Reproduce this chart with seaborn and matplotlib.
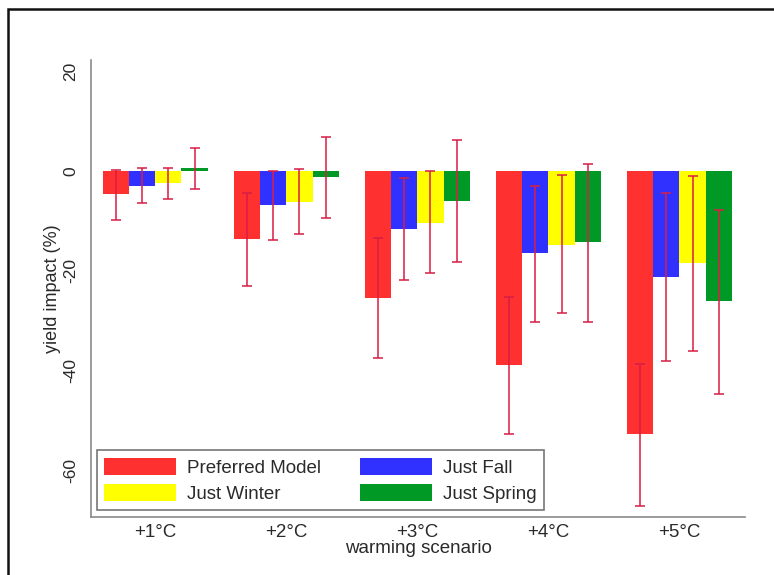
import numpy as np
import pandas as pd
import seaborn as sns
from matplotlib import pyplot as plt
from matplotlib.patches import Rectangle

scenarios = ["+1°C", "+2°C", "+3°C", "+4°C", "+5°C"]
series = ["Preferred Model", "Just Fall", "Just Winter", "Just Spring"]

pref = [-4.6, -13.6, -25.4, -38.8, -52.6]
pref_lo = [-9.8, -23.0, -37.4, -52.6, -67.0]
pref_hi = [0.2, -4.4, -13.4, -25.2, -38.6]

fall = [-3.0, -6.8, -11.6, -16.4, -21.2]
fall_lo = [-6.4, -13.8, -21.8, -30.2, -38.0]
fall_hi = [0.6, 0.0, -1.4, -3.0, -4.4]

winter = [-2.4, -6.2, -10.4, -14.8, -18.4]
winter_lo = [-5.6, -12.6, -20.4, -28.4, -36.0]
winter_hi = [0.6, 0.4, 0.0, -0.8, -1.0]

spring = [0.5, -1.3, -6.0, -14.2, -26.0]
spring_lo = [-3.6, -9.4, -18.2, -30.2, -44.6]
spring_hi = [4.6, 6.8, 6.2, 1.4, -7.8]

colors = ["#ff3030", "#3030ff", "#ffff00", "#009926"]
err_color = "#d81e45"

values = [pref, fall, winter, spring]
lows = [pref_lo, fall_lo, winter_lo, spring_lo]
highs = [pref_hi, fall_hi, winter_hi, spring_hi]

df = pd.DataFrame({
    "scenario": scenarios * 4,
    "model": np.repeat(series, 5),
    "impact": np.concatenate(values),
})

sns.set_style("white")
plt.rcParams["font.family"] = ["Liberation Sans", "DejaVu Sans"]

fig = plt.figure(figsize=(7.74, 5.75), dpi=100)
ax = fig.add_axes([0.1176, 0.1009, 0.8449, 0.7948])

sns.barplot(data=df, x="scenario", y="impact", hue="model", hue_order=series,
            order=scenarios, palette=colors, saturation=1, width=0.8,
            errorbar=None, ax=ax, linewidth=0, legend=False)

# error bars centred on each bar
for cont, lo, hi in zip(ax.containers, lows, highs):
    xs = [p.get_x() + p.get_width() / 2 for p in cont.patches]
    lo = np.array(lo)
    hi = np.array(hi)
    ax.errorbar(xs, (lo + hi) / 2, yerr=(hi - lo) / 2, fmt="none",
                ecolor=err_color, elinewidth=1.3, capsize=3.5, capthick=1.3,
                alpha=0.85, zorder=3)

ax.set_xlim(-0.49, 4.5)
ax.set_ylim(-69.2, 22.2)
ax.set_yticks([20, 0, -20, -40, -60])
ax.set_yticklabels(["20", "0", "-20", "-40", "-60"], rotation=90, va="center")

for s in ["top", "right"]:
    ax.spines[s].set_visible(False)
for s in ["left", "bottom"]:
    ax.spines[s].set_color("#8a8a8a")
    ax.spines[s].set_linewidth(1.2)

ax.tick_params(axis="y", length=5, color="#8a8a8a", labelsize=12.5, labelcolor="#2a2a2a", pad=4)
ax.tick_params(axis="x", length=0, labelsize=13.5, labelcolor="#2a2a2a", pad=5)

ax.set_xlabel("warming scenario", fontsize=13.5, color="#2a2a2a", labelpad=-1)
ax.set_ylabel("yield impact (%)", fontsize=13, color="#2a2a2a", labelpad=2)

handles = [Rectangle((0, 0), 1, 1, facecolor=colors[i], edgecolor="none") for i in [0, 2, 1, 3]]
labels = [series[i] for i in [0, 2, 1, 3]]
leg = ax.legend(handles, labels, ncol=2, loc="lower left", bbox_to_anchor=(0.009, 0.015),
                borderaxespad=0, fancybox=False, frameon=True, fontsize=13.5,
                handlelength=3.8, handleheight=1.05, handletextpad=0.6,
                columnspacing=2.1, labelspacing=0.35, borderpad=0.4)
leg.get_frame().set_edgecolor("#555555")
leg.get_frame().set_linewidth(1.2)
for t in leg.get_texts():
    t.set_color("#2a2a2a")

# outer frame of the original figure
fig.patches.append(Rectangle((8 / 774, -0.2), 1.5, 0.2 + 1 - 9 / 575,
                             transform=fig.transFigure, fill=False,
                             edgecolor="#111111", linewidth=1.8))

fig.savefig("out.png", dpi=100)
